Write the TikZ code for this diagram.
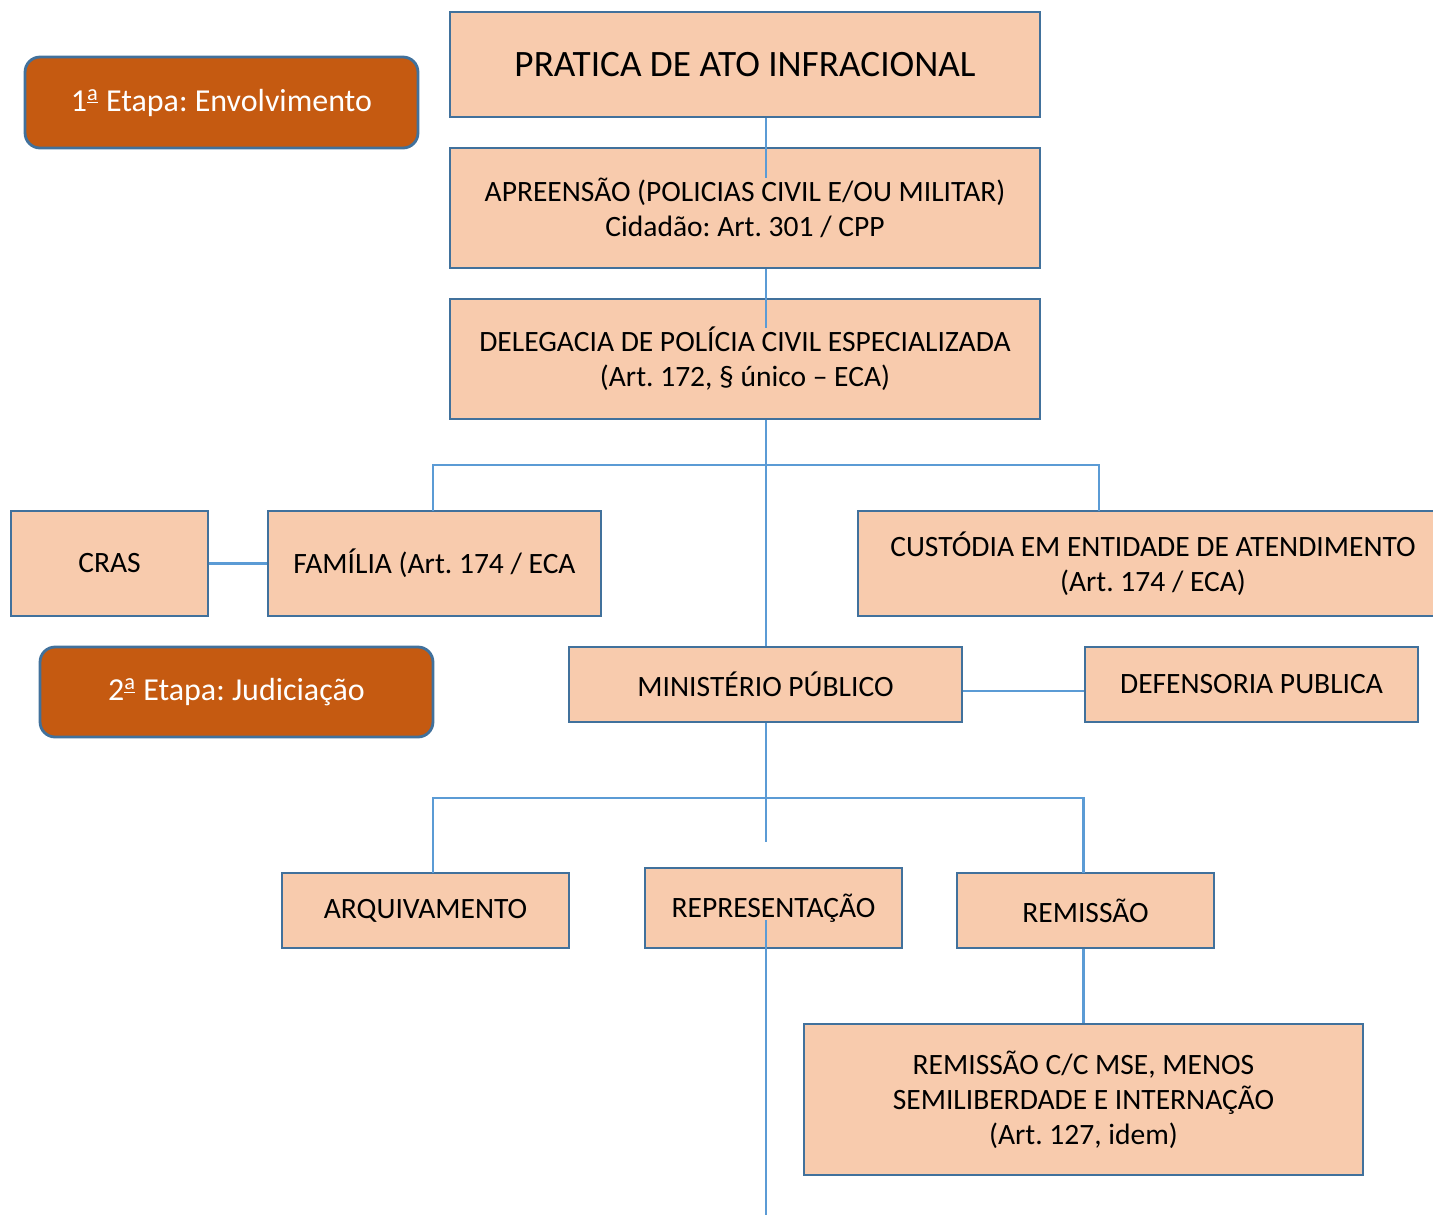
\documentclass[tikz,border=0pt]{standalone}
\usepackage{fontspec}
\setmainfont{Carlito}
\usepackage{tikz}
\usetikzlibrary{positioning,calc}
\definecolor{boxfill}{HTML}{F8CBAD}
\definecolor{boxline}{HTML}{41719C}
\definecolor{etapafill}{HTML}{C55A11}
\definecolor{linkline}{HTML}{5B9BD5}
\frenchspacing

\begin{document}
\begin{tikzpicture}[x=0.02cm,y=-0.02cm,
  caixa/.style={draw=boxline,fill=boxfill,line width=1.6pt,align=center,inner sep=0pt,font=\fontsize{16.8}{20}\selectfont},
  etapa/.style={draw=boxline,fill=etapafill,line width=1.6pt,rounded corners=0.3cm,text=white,inner sep=0pt,font=\fontsize{18.2}{21}\selectfont},
  conn/.style={draw=linkline,line width=1.2pt}]
\useasboundingbox (0,0) rectangle (1433,1215);
\clip (0,0) rectangle (1433,1215);

%etapas
\node[etapa,minimum width=7.86cm,minimum height=1.82cm] (etapa1) at (221.5,102.5) {1\textsuperscript{\underline{a}} Etapa: Envolvimento};
\node[etapa,minimum width=7.86cm,minimum height=1.8cm] (etapa2) at (236.5,692) {2\textsuperscript{\underline{a}} Etapa: Judiciação};

%boxes
\node[caixa,minimum width=11.8cm,minimum height=2.1cm,font=\fontsize{21.2}{25}\selectfont] (pratica) at (745,64.5) {PRATICA DE ATO INFRACIONAL};
\node[caixa,minimum width=11.8cm,minimum height=2.4cm] (apreensao) at (745,208) {APREENSÃO (POLICIAS CIVIL E/OU MILITAR)\\Cidadão: Art. 301 / CPP};
\node[caixa,minimum width=11.8cm,minimum height=2.4cm] (delegacia) at (745,359) {DELEGACIA DE POLÍCIA CIVIL ESPECIALIZADA\\(Art. 172, § único -- ECA)};
\node[caixa,minimum width=3.94cm,minimum height=2.1cm] (cras) at (109.5,563.5) {CRAS};
\node[caixa,minimum width=6.66cm,minimum height=2.1cm] (familia) at (434.5,563.5) {FAMÍLIA (Art. 174 / ECA};
\node[caixa,minimum width=11.8cm,minimum height=2.1cm] (custodia) at (1153,563.5) {CUSTÓDIA EM ENTIDADE DE ATENDIMENTO\\(Art. 174 / ECA)};
\node[caixa,minimum width=7.86cm,minimum height=1.5cm] (mp) at (765.5,684.5) {MINISTÉRIO PÚBLICO};
\node[caixa,minimum width=6.66cm,minimum height=1.5cm] (defensoria) at (1251.5,684.5) {DEFENSORIA PUBLICA};
\node[caixa,minimum width=5.74cm,minimum height=1.5cm] (arquivamento) at (425.5,910.5) {ARQUIVAMENTO};
\node[caixa,minimum width=5.14cm,minimum height=1.6cm] (representacao) at (773.5,908) {REPRESENTAÇÃO};
\node[caixa,minimum width=5.14cm,minimum height=1.5cm] (remissao) at (1085.5,910.5) {REMISSÃO};
\node[caixa,minimum width=11.18cm,minimum height=3.02cm] (remissaocc) at (1083.5,1099.5) {REMISSÃO C/C MSE, MENOS\\SEMILIBERDADE E INTERNAÇÃO\\(Art. 127, idem)};

%connectors
\coordinate (t1) at (766,178);
\coordinate (t2) at (766,328);
\coordinate (t3) at (766,842);
\coordinate (t4) at (766,920);
\coordinate (t5) at (766,1215);
\coordinate (h1) at (766,465);
\coordinate (h2) at (766,798);
\coordinate (fa) at (433,511);
\coordinate (cu) at (1099,511);
\coordinate (ar) at (433,873);
\coordinate (re) at (1083.5,873);

\draw[conn] (pratica.south -| t1) -- (t1);
\draw[conn] (apreensao.south -| t2) -- (t2);
\draw[conn] (delegacia.south -| t1) -- (mp.north -| t1);
\draw[conn] (fa) |- (h1) -| (cu);
\draw[conn] (cras.east) -- (familia.west);
\draw[conn] ([yshift=-0.13cm]mp.east) -- ([yshift=-0.13cm]defensoria.west);
\draw[conn] (mp.south -| t3) -- (t3);
\draw[conn] (ar) |- (h2) -| (re);
\draw[conn] (t4) -- (t5);
\draw[conn] (remissao.south -| remissaocc.north) -- (remissaocc.north);
\end{tikzpicture}
\end{document}
